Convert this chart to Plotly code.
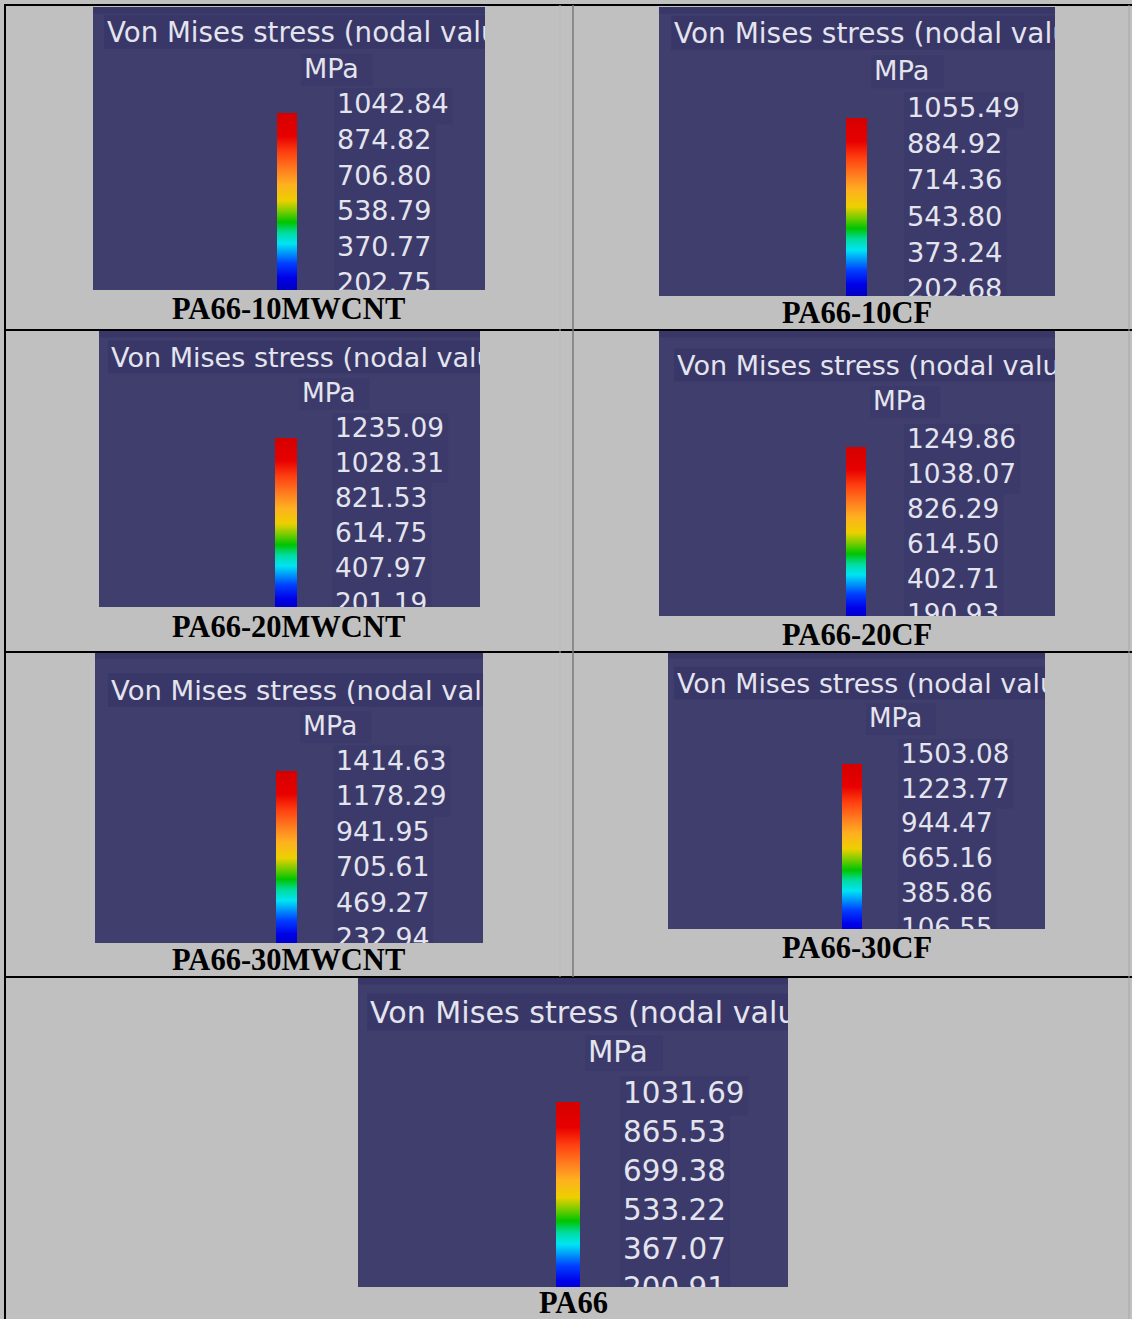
import plotly.graph_objects as go

W, H = 1132, 1319

# ---------------- data ----------------
captions = ["PA66-10MWCNT", "PA66-10CF", "PA66-20MWCNT", "PA66-20CF",
            "PA66-30MWCNT", "PA66-30CF", "PA66"]
ticks_10mwcnt = [1042.84, 874.82, 706.80, 538.79, 370.77, 202.75]
ticks_10cf = [1055.49, 884.92, 714.36, 543.80, 373.24, 202.68]
ticks_20mwcnt = [1235.09, 1028.31, 821.53, 614.75, 407.97, 201.19]
ticks_20cf = [1249.86, 1038.07, 826.29, 614.50, 402.71, 190.93]
ticks_30mwcnt = [1414.63, 1178.29, 941.95, 705.61, 469.27, 232.94]
ticks_30cf = [1503.08, 1223.77, 944.47, 665.16, 385.86, 106.55]
ticks_pa66 = [1031.69, 865.53, 699.38, 533.22, 367.07, 200.91]
panel_ticks = [ticks_10mwcnt, ticks_10cf, ticks_20mwcnt, ticks_20cf,
               ticks_30mwcnt, ticks_30cf, ticks_pa66]
title_text = "Von Mises stress (nodal values)"
unit_text = "MPa"

# ---------------- layout (pixels) ----------------
layout_px = [
    dict(rect=(93, 7, 485, 290), bar=(277, 297, 113), lx=337, base=113, sp=35.8,
         title=(107, 42), unit=(304, 78), cap=(288, 309)),
    dict(rect=(659, 7, 1055, 296), bar=(846, 867, 118), lx=907, base=117, sp=36.2,
         title=(674, 43), unit=(874, 80), cap=(857, 313)),
    dict(rect=(99, 331, 480, 607), bar=(275, 297, 438), lx=335, base=437, sp=35.0,
         title=(111, 367), unit=(302, 402), cap=(288, 627)),
    dict(rect=(659, 331, 1055, 616), bar=(846, 866, 447), lx=907, base=448, sp=35.0,
         title=(677, 375), unit=(873, 410), cap=(857, 635)),
    dict(rect=(95, 652, 483, 943), bar=(276, 297, 771), lx=336, base=770, sp=35.5,
         title=(111, 700), unit=(303, 735), cap=(288, 960)),
    dict(rect=(668, 652, 1045, 929), bar=(842, 862, 764), lx=901, base=763, sp=34.75,
         title=(677, 693), unit=(869, 727), cap=(857, 948)),
    dict(rect=(358, 977, 788, 1287), bar=(556, 580, 1102), lx=623, base=1103, sp=39.0,
         title=(370, 1023), unit=(588, 1062), cap=(573, 1303)),
]

jet = [[0.00, "#0000b8"], [0.08, "#0000e8"], [0.16, "#0040ff"], [0.27, "#00e4f4"],
       [0.33, "#00dca0"], [0.39, "#00c400"], [0.45, "#78cc00"], [0.51, "#ecd000"],
       [0.60, "#ffb020"], [0.68, "#ff8020"], [0.78, "#ff4010"], [0.87, "#e80000"],
       [1.00, "#d40000"]]

PANEL_BG = "#3f3e6d"
BOX_BG = "#3b3a6a"
BAND_BG = "#383767"
TEXT_COL = "#e4e4ee"
FONT = "DejaVu Sans"

fig = go.Figure()


def px_to_paper_x(px):
    return px / W


def px_to_paper_y(py):
    return 1 - py / H


for i, (ticks, L) in enumerate(zip(panel_ticks, layout_px)):
    n = i + 1
    xa = "x" if n == 1 else f"x{n}"
    ya = "y" if n == 1 else f"y{n}"
    x0, y0, x1, y1 = L["rect"]
    sp = L["sp"]
    fs = sp * 0.754
    vmax, vmin = max(ticks), min(ticks)
    step = (vmax - vmin) / (len(ticks) - 1)
    upp = step / sp                       # MPa per pixel
    P = L["base"] - 0.25 * fs             # pixel of text anchor for vmax

    def val(py, vmax=vmax, P=P, upp=upp):
        return vmax - (py - P) * upp

    tx, tb = L["title"]
    ux, ub = L["unit"]

    # subtle text-widget backgrounds
    fig.add_shape(type="rect", xref=xa, yref=ya, layer="below",
                  x0=x0, x1=x1, y0=val(y0), y1=val(y0 + 0.25 * fs),
                  fillcolor=BAND_BG, line=dict(width=0))
    fig.add_shape(type="rect", xref=xa, yref=ya, layer="below",
                  x0=tx - 3, x1=x1, y0=val(tb - 1.0 * fs), y1=val(tb + 0.25 * fs),
                  fillcolor=BAND_BG, line=dict(width=0))
    fig.add_shape(type="rect", xref=xa, yref=ya, layer="below",
                  x0=ux - 3, x1=ux + 2.55 * fs, y0=val(ub - 0.9 * fs), y1=val(ub + 0.3 * fs),
                  fillcolor=BOX_BG, line=dict(width=0))
    for t in ticks:
        s = f"{t:.2f}"
        wdt = (len(s) - 1) * 0.636 * fs + 0.318 * fs
        fig.add_shape(type="rect", xref=xa, yref=ya, layer="below",
                      x0=L["lx"] - 3, x1=L["lx"] + wdt + 4,
                      y0=t - 0.5 * step, y1=t + 0.5 * step,
                      fillcolor=BOX_BG, line=dict(width=0))

    # colour bar
    off = (L["bar"][2] - P) * upp
    bx0, bx1, _ = L["bar"]
    lo, hi = vmin - off, vmax - off
    fig.add_trace(go.Scatter(
        x=[bx0, bx1, bx1, bx0], y=[lo, lo, hi, hi], xaxis=xa, yaxis=ya,
        mode="lines", line=dict(width=0), fill="toself",
        fillgradient=dict(type="vertical", colorscale=jet, start=lo, stop=hi),
        hoverinfo="skip", showlegend=False))

    # tick labels
    fig.add_trace(go.Scatter(
        x=[L["lx"]] * len(ticks), y=ticks, xaxis=xa, yaxis=ya,
        mode="text", text=[f"{t:.2f}" for t in ticks], textposition="middle right",
        textfont=dict(family=FONT, size=fs, color=TEXT_COL),
        cliponaxis=True, hoverinfo="skip", showlegend=False))

    # title and unit
    fig.add_trace(go.Scatter(
        x=[tx], y=[val(tb - 0.25 * fs)], xaxis=xa, yaxis=ya,
        mode="text", text=[title_text], textposition="middle right",
        textfont=dict(family=FONT, size=fs * 1.025, color=TEXT_COL),
        cliponaxis=True, hoverinfo="skip", showlegend=False))
    fig.add_trace(go.Scatter(
        x=[ux], y=[val(ub - 0.25 * fs)], xaxis=xa, yaxis=ya,
        mode="text", text=[unit_text], textposition="middle right",
        textfont=dict(family=FONT, size=fs, color=TEXT_COL),
        cliponaxis=True, hoverinfo="skip", showlegend=False))

    axis_common = dict(visible=False, showgrid=False, zeroline=False, fixedrange=True)
    fig.update_layout({
        ("xaxis" if n == 1 else f"xaxis{n}"): dict(
            domain=[px_to_paper_x(x0), px_to_paper_x(x1)], range=[x0, x1],
            anchor=ya, **axis_common),
        ("yaxis" if n == 1 else f"yaxis{n}"): dict(
            domain=[px_to_paper_y(y1), px_to_paper_y(y0)], range=[val(y1), val(y0)],
            anchor=xa, **axis_common),
    })

    cx, cy = L["cap"]
    fig.add_annotation(
        x=px_to_paper_x(cx), y=px_to_paper_y(cy), xref="paper", yref="paper",
        text=f"<b>{captions[i]}</b>", showarrow=False, xanchor="center", yanchor="middle",
        font=dict(family="Liberation Serif", size=30.5, color="#000000"))


def hline(py, xa, xb, color="#000000", width=2):
    fig.add_shape(type="line", xref="paper", yref="paper",
                  x0=px_to_paper_x(xa), x1=px_to_paper_x(xb),
                  y0=px_to_paper_y(py), y1=px_to_paper_y(py),
                  line=dict(color=color, width=width), layer="above")


def vline(px, ya, yb, color="#000000", width=2):
    fig.add_shape(type="line", xref="paper", yref="paper",
                  x0=px_to_paper_x(px), x1=px_to_paper_x(px),
                  y0=px_to_paper_y(ya), y1=px_to_paper_y(yb),
                  line=dict(color=color, width=width), layer="above")


# table rules
for ry in (5, 330, 652, 977):
    hline(ry, 4, W)
vline(5, 4, H)
vline(560, 5, 977, color="#b8b8b8", width=1)
vline(573, 5, 977, color="#7a7a7a", width=1.5)
vline(1129, 5, H, color="#a8a8a8", width=1)

fig.update_layout(
    width=W, height=H, margin=dict(l=0, r=0, t=0, b=0),
    paper_bgcolor="#c0c0c0", plot_bgcolor=PANEL_BG, showlegend=False,
)

fig.write_html("out.html", config={"displayModeBar": False, "staticPlot": True},
               post_script="document.body.style.margin='0';document.body.style.overflow='hidden';")
